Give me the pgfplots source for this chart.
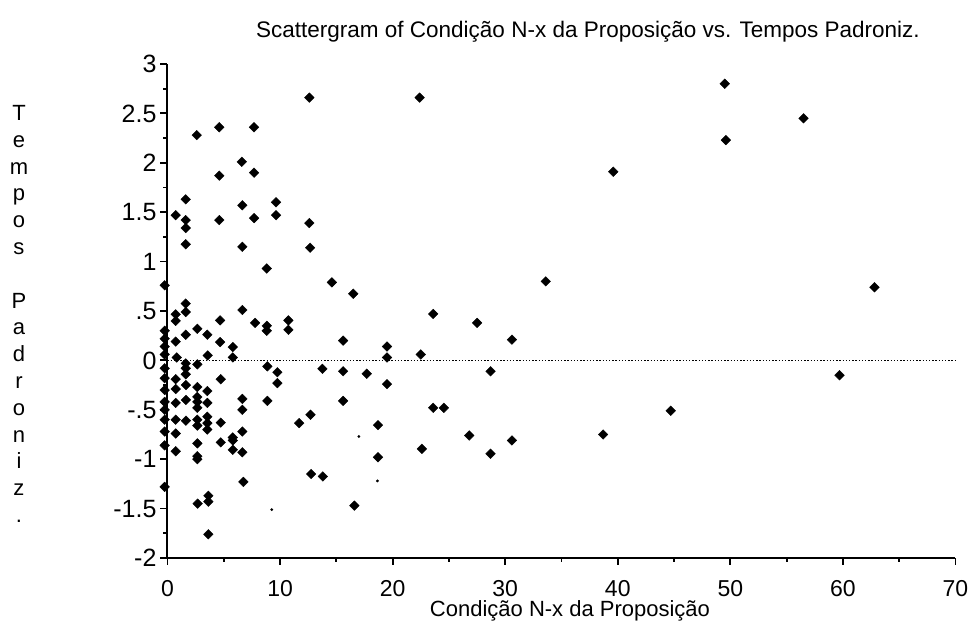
\documentclass[border=0pt]{standalone}
\usepackage{pgfplots}
\pgfplotsset{compat=1.18}
\usepackage{fontspec}
\setmainfont{Liberation Sans}
\begin{document}
\begin{tikzpicture}
\begin{axis}[
  at={(0,0)}, anchor=south west,
  scale only axis, width=394pt, height=247pt,
  xmin=0, xmax=70, ymin=-2, ymax=3,
  axis x line=bottom, axis y line=left,
  axis line style={-, line width=1pt},
  tick align=outside,
  major tick length=3.5pt, minor tick length=2pt,
  tick style={line width=0.9pt, black},
  xtick={0,10,...,70}, minor x tick num=1,
  ytick={-2,-1.5,-1,-0.5,0,0.5,1,1.5,2,2.5,3},
  yticklabels={-2,-1.5,-1,-.5,0,.5,1,1.5,2,2.5,3},
  minor y tick num=1,
  /pgf/number format/assume math mode=true,
  xticklabel style={font=\fontsize{11.5}{13}\selectfont, inner sep=0pt, yshift=-7.5pt},
  yticklabel style={font=\fontsize{12.5}{14}\selectfont, xshift=1.5pt},
  clip=false,
]
\addplot[black, line width=0.6pt, dash pattern=on 0.7pt off 0.9pt] coordinates {(0,0) (70,0)};
\addplot[only marks, mark=square*, mark size=1.7pt, mark options={rotate=45, fill=black, draw=black, line width=0.2pt}] table {
x y
12.6 2.66
22.4 2.66
49.5 2.80
49.6 2.23
56.5 2.45
39.6 1.91
12.6 1.39
12.67 1.14
14.6 0.79
16.5 0.675
33.6 0.80
62.8 0.74
23.6 0.47
27.5 0.38
15.6 0.20
30.6 0.21
19.5 0.14
19.5 0.03
22.5 0.06
13.76 -0.085
15.6 -0.11
17.7 -0.135
19.5 -0.24
28.7 -0.11
15.6 -0.41
23.6 -0.48
24.55 -0.48
12.7 -0.55
11.7 -0.635
18.7 -0.655
26.8 -0.76
22.6 -0.895
30.6 -0.81
28.7 -0.945
18.7 -0.98
12.76 -1.15
13.8 -1.175
16.6 -1.47
38.7 -0.75
44.7 -0.51
59.7 -0.15
2.6 2.28
4.6 2.36
7.69 2.36
6.6 2.01
7.69 1.90
4.6 1.87
1.62 1.63
6.65 1.57
9.64 1.60
0.73 1.47
1.62 1.42
1.62 1.34
4.6 1.42
7.69 1.44
9.64 1.47
1.62 1.175
6.65 1.15
8.82 0.93
0.73 0.466
0.73 0.40
1.62 0.575
1.62 0.49
0.73 0.19
1.62 0.26
2.65 0.32
3.54 0.26
4.67 0.405
6.65 0.51
7.78 0.38
8.82 0.35
8.82 0.30
10.74 0.405
10.74 0.31
4.67 0.185
5.8 0.135
0.82 0.03
3.57 0.05
5.8 0.03
1.62 -0.03
1.62 -0.08
1.62 -0.14
2.65 -0.04
8.87 -0.06
9.76 -0.12
9.76 -0.23
0.73 -0.19
0.73 -0.29
1.64 -0.25
2.65 -0.27
3.54 -0.31
4.73 -0.19
0.73 -0.43
1.64 -0.40
2.65 -0.37
2.65 -0.42
2.65 -0.48
3.54 -0.43
6.65 -0.39
6.65 -0.50
8.87 -0.41
0.73 -0.60
1.64 -0.61
2.65 -0.60
2.65 -0.66
3.54 -0.57
3.54 -0.635
3.54 -0.70
4.73 -0.63
0.73 -0.74
2.65 -0.84
2.65 -0.97
2.65 -1.0
0.73 -0.92
4.73 -0.83
5.8 -0.78
5.8 -0.81
6.65 -0.72
5.8 -0.905
6.65 -0.93
2.68 -1.45
3.63 -1.37
3.63 -1.43
3.63 -1.76
6.74 -1.23
-0.25 0.76
-0.25 0.30
-0.25 0.22
-0.25 0.14
-0.25 0.06
-0.25 -0.08
-0.25 -0.18
-0.25 -0.30
-0.25 -0.42
-0.25 -0.50
-0.25 -0.60
-0.25 -0.72
-0.25 -0.86
-0.25 -1.28
};
\addplot[only marks, mark=*, mark size=0.5pt, black] table {
x y
17.0 -0.77
18.65 -1.22
9.26 -1.51
};
\end{axis}
\node[font=\fontsize{11.25}{13}\selectfont] at (210.25pt,263pt) {Scattergram of Condição N-x da Proposição vs. Tempos Padroniz.};
\node[font=\fontsize{11}{13}\selectfont, inner sep=0pt] at (201.25pt,-26.5pt) {Condição N-x da Proposição};
\node[font=\fontsize{11}{13.4}\selectfont, align=center, inner sep=0pt] at (-74.25pt,122pt) {T\\e\\m\\p\\o\\s\\\mbox{}\\P\\a\\d\\r\\o\\n\\i\\z\\.};
\pgfresetboundingbox
\path (-83.75pt,-36pt) rectangle (401.25pt,279pt);
\end{tikzpicture}
\end{document}
